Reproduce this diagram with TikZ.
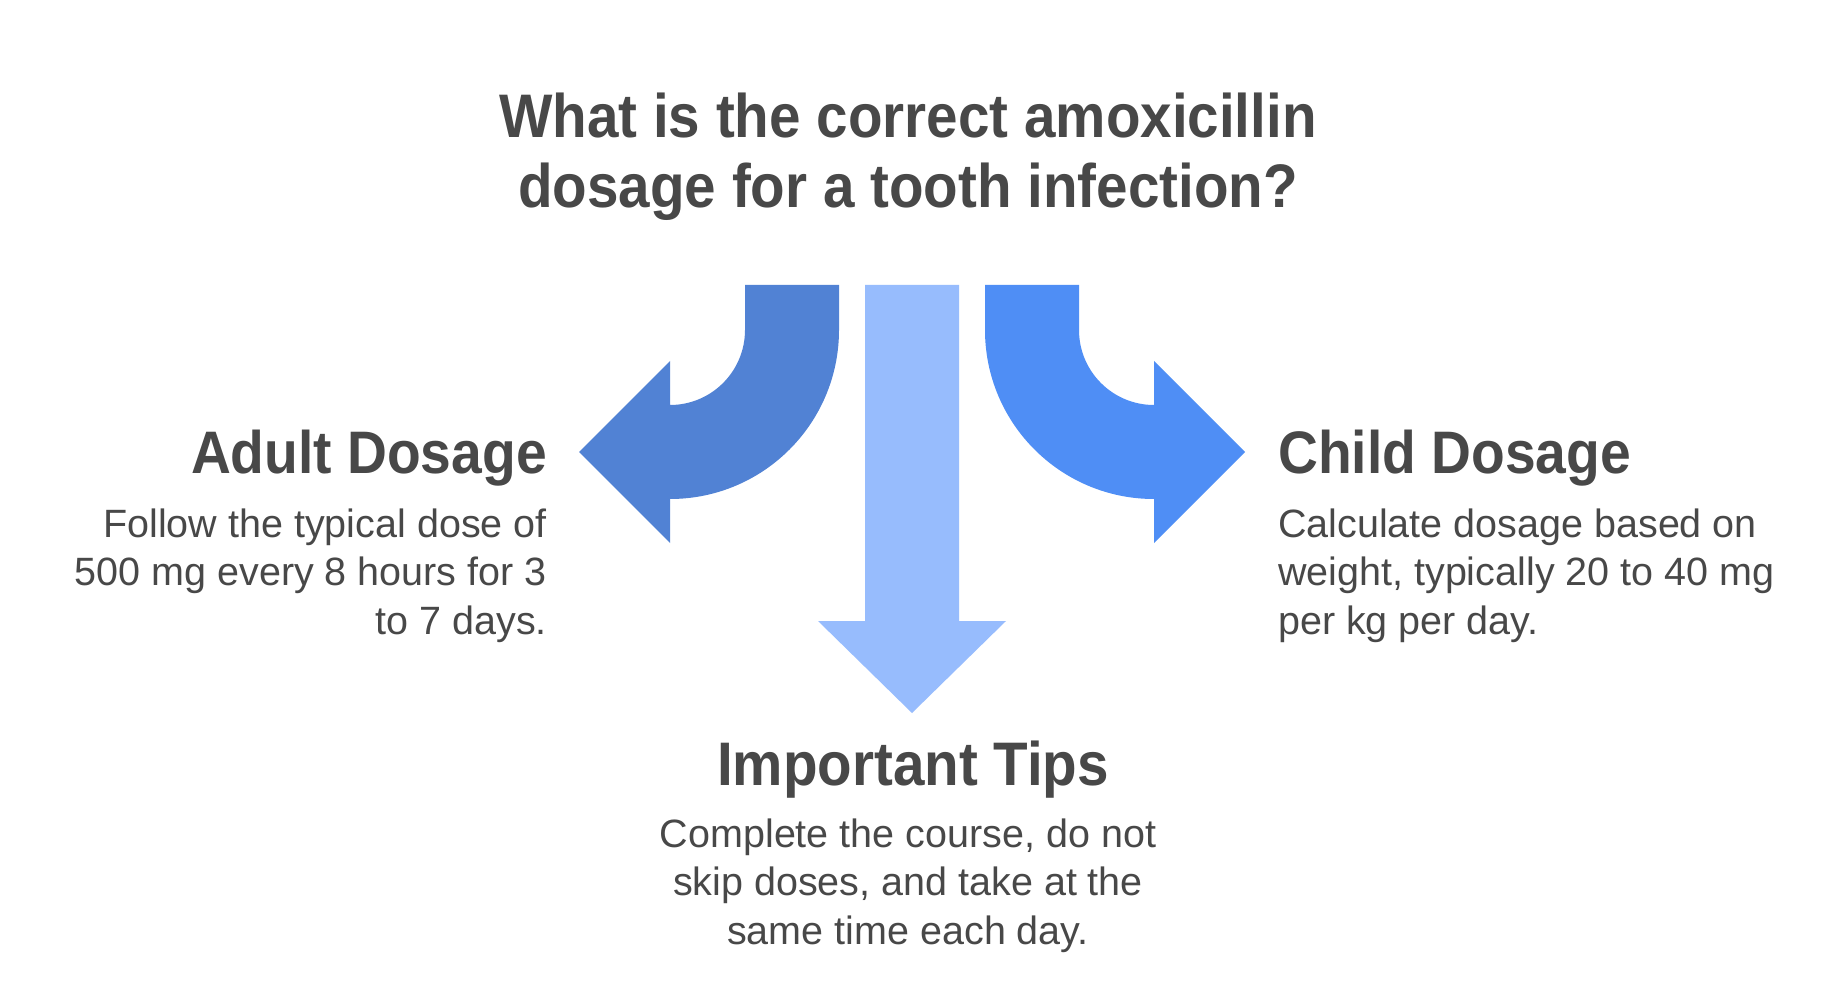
\documentclass[tikz,border=0pt]{standalone}
\usepackage{fontspec}
\setmainfont{Liberation Sans}
\newfontfamily\headfont[FakeStretch=0.92]{Liberation Sans}
\definecolor{txt}{HTML}{484848}
\definecolor{leftblue}{HTML}{5182D4}
\definecolor{midblue}{HTML}{97BCFD}
\definecolor{rightblue}{HTML}{4F8EF5}
\tikzset{
  titletext/.style={font=\headfont\bfseries\fontsize{61.5}{70.5}\selectfont, text=txt, align=center, inner sep=0pt},
  headtext/.style={font=\headfont\bfseries\fontsize{60}{72}\selectfont, text=txt, inner sep=0pt},
  bodytext/.style={font=\fontsize{39.5}{48.7}\selectfont, text=txt, inner sep=0pt},
  arrowshape/.style={draw=none}
}
\begin{document}
\begin{tikzpicture}[x=1pt,y=1pt]
\fill[white] (0,0) rectangle (1848,-1008);
\useasboundingbox (0,0) rectangle (1848,-1008);

% left arrow
\fill[leftblue, arrowshape] (745,-285) -- (839,-285) -- (839,-330)
  arc[start angle=0, end angle=-90, radius=169] -- (670,-543) -- (579,-452)
  -- (670,-361) -- (670,-405) arc[start angle=-90, end angle=0, radius=75] -- cycle;
% middle arrow
\fill[midblue, arrowshape] (865,-285) -- (959,-285) -- (959,-621) -- (1006,-621)
  -- (912,-713) -- (818,-621) -- (865,-621) -- cycle;
% right arrow
\fill[rightblue, arrowshape] (1079,-285) -- (985,-285) -- (985,-330)
  arc[start angle=180, end angle=270, radius=169] -- (1154,-543) -- (1245,-452)
  -- (1154,-361) -- (1154,-405) arc[start angle=270, end angle=180, radius=75] -- cycle;

% base anchor of a multi-line node = baseline of its last line
\node[titletext, anchor=base] (title) at (908,-208)
  {What is the correct amoxicillin\\dosage for a tooth infection?};

\node[headtext, anchor=base east] (adultHead) at (547,-473) {Adult Dosage};
\node[bodytext, align=right, anchor=base east] (adultBody) at (547,-634.6)
  {Follow the typical dose of\\500 mg every 8 hours for 3\\to 7 days.};

\node[headtext, anchor=base west] (childHead) at (1278,-473) {Child Dosage};
\node[bodytext, align=left, anchor=base west] (childBody) at (1278,-634.6)
  {Calculate dosage based on\\weight, typically 20 to 40 mg\\per kg per day.};

\node[headtext, font=\headfont\bfseries\fontsize{61.5}{72}\selectfont, anchor=base] (tipsHead) at (913,-785) {Important Tips};
\node[bodytext, align=center, anchor=base] (tipsBody) at (908,-944.4)
  {Complete the course, do not\\skip doses, and take at the\\same time each day.};
\end{tikzpicture}
\end{document}
